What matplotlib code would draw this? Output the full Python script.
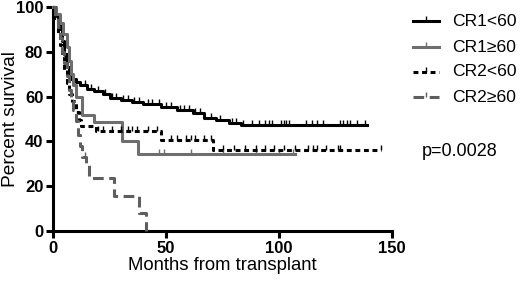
import matplotlib.pyplot as plt
from matplotlib.lines import Line2D

plt.rcParams['font.family'] = ['Liberation Sans', 'DejaVu Sans']

# ---- data ----
cr1_lt60_t = [0, 1, 2, 3, 4, 5, 6, 7, 8, 10, 12, 15, 18, 22, 25, 30, 35, 40, 48, 55, 62, 67, 72, 78, 83, 139]
cr1_lt60_s = [100, 97, 94, 90, 85, 79, 73, 70, 68, 66.5, 65, 63.5, 62.5, 61, 59.5, 58.5, 57.5, 56.5, 55.5, 54, 52.5, 50.5, 49.5, 48, 47.5, 47.5]
cr1_lt60_cens = [14, 17, 20, 23, 26, 28, 31, 33, 36, 38, 42, 44, 47, 50, 52, 56, 58, 60, 63, 65, 70, 74, 79, 81, 84,
                 88, 91, 94, 95.5, 97, 101, 102, 103, 104.5, 112, 114.6, 117, 119.5, 127, 128.5, 130, 131.5, 134.5, 138]

cr1_ge60_t = [0, 1.5, 3, 4.5, 6, 7, 8, 9, 10, 13, 18, 30.5, 37.7, 107]
cr1_ge60_s = [100, 97, 93, 88, 82, 76, 70, 65, 60, 52, 48.5, 40, 34.5, 34.5]
cr1_ge60_cens = [47, 49, 61, 75, 90, 100, 106]

cr2_lt60_t = [0, 1, 2, 3, 4, 5, 6, 7, 8.5, 10, 11.5, 12.5, 19, 48, 71, 145]
cr2_lt60_s = [100, 95, 88, 83, 78, 72, 66, 61, 58, 53, 49.5, 47, 44.5, 40.5, 36, 36]
cr2_lt60_cens = [20, 22, 26, 30, 33, 35, 37, 42, 46, 52, 55, 59, 61, 63, 67, 70,
                 75, 80, 85, 90, 94, 98, 102, 107, 113, 115, 117, 121, 126, 127, 145]

cr2_ge60_t = [0, 1, 2, 3, 4, 5, 6, 7, 8, 9, 10, 11, 12, 13, 14.5, 16, 27, 38, 41]
cr2_ge60_s = [100, 96, 91, 86, 80, 75, 69, 63, 58, 54, 49, 43, 38, 33, 30.5, 23.5, 15.5, 8, 0]
cr2_ge60_cens = [14]

labels = ['CR1<60', 'CR1\u226560', 'CR2<60', 'CR2\u226560']
colors = ['black', '#6e6e6e', 'black', '#5e5e5e']
styles = ['-', '-', (0, (1.6, 1.2)), (0, (3.5, 1.8))]

series = [
    (cr1_lt60_t, cr1_lt60_s, cr1_lt60_cens),
    (cr1_ge60_t, cr1_ge60_s, cr1_ge60_cens),
    (cr2_lt60_t, cr2_lt60_s, cr2_lt60_cens),
    (cr2_ge60_t, cr2_ge60_s, cr2_ge60_cens),
]


def surv_at(t, s, x):
    val = s[0]
    for ti, si in zip(t, s):
        if ti <= x:
            val = si
    return val


tick_up = [(0, 0), (0, 1)]
W, H = 520, 287

fig = plt.figure(figsize=(5.2, 2.87), dpi=100)
ax = fig.add_axes([53 / W, 1 - 231 / H, 339 / W, 224 / H])

for (t, s, cens), col, ls in zip(series, colors, styles):
    ax.step(t, s, where='post', color=col, lw=2.2, ls=ls, clip_on=False, zorder=3)
    cy = [surv_at(t, s, c) for c in cens]
    ax.plot(cens, cy, ls='none', marker=tick_up, markersize=7, markeredgewidth=1.0,
            color=col, clip_on=False, zorder=3)

ax.set_xlim(0, 150)
ax.set_ylim(0, 100)
ax.set_xticks([0, 50, 100, 150])
ax.set_yticks([0, 20, 40, 60, 80, 100])
for sp in ['top', 'right']:
    ax.spines[sp].set_visible(False)
for sp in ['left', 'bottom']:
    ax.spines[sp].set_linewidth(2.2)
ax.tick_params(width=2.2, length=5, labelsize=12, pad=2)
for lbl in ax.get_xticklabels() + ax.get_yticklabels():
    lbl.set_fontweight('bold')

ax.set_xlabel('Months from transplant', fontsize=13.3)
ax.xaxis.set_label_coords((222 - 53) / 339, -(265 - 231) / 224)
ax.xaxis.label.set_va('center')
ax.set_ylabel('Percent survival', fontsize=13.8)
ax.yaxis.set_label_coords((11 - 53) / 339, 0.5)
ax.yaxis.label.set_va('center')

# legend drawn by hand on the figure
row_y = [21, 47, 72, 97]
for lab, col, ls, yy in zip(labels, colors, styles, row_y):
    fy = 1 - yy / H
    fig.add_artist(Line2D([413 / W, 439 / W], [fy, fy], color=col, lw=2.2, ls=ls,
                          transform=fig.transFigure))
    fig.add_artist(Line2D([426 / W], [fy], color=col, marker=tick_up, markersize=7,
                          markeredgewidth=1.0, transform=fig.transFigure))
    fig.text(452 / W, fy, lab, fontsize=12.6, va='center', ha='left')

fig.text(422 / W, 1 - 151 / H, 'p=0.0028', fontsize=13, va='center', ha='left')

fig.savefig('out.png', dpi=100)
